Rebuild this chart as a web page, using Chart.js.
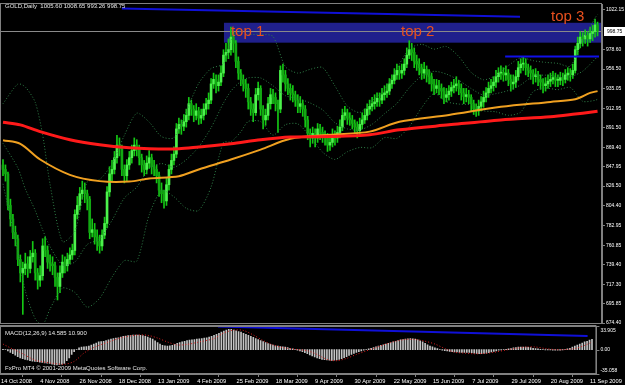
<!DOCTYPE html>
<html>
<head>
<meta charset="utf-8">
<script src="https://cdn.jsdelivr.net/npm/chart.js@4.4.0/dist/chart.umd.min.js"></script>
<style>
html, body { margin: 0; padding: 0; background: #000; }
#wrap { position: relative; width: 625px; height: 385px; background: #000; overflow: hidden; }
#price { position: absolute; left: 0; top: 0; }
#macd { position: absolute; left: 0; top: 325px; }
</style>
</head>
<body>
<div id="wrap">
  <canvas id="price" width="625" height="330" style="width:625px;height:330px"></canvas>
  <canvas id="macd" width="625" height="60" style="width:625px;height:60px"></canvas>
</div>
<script>
// GOLD daily, 14 Oct 2008 .. 11 Sep 2009 (bar index 0..240)
const dateLabels = ['14 Oct 2008', '4 Nov 2008', '26 Nov 2008', '18 Dec 2008', '13 Jan 2009', '4 Feb 2009',
    '25 Feb 2009', '18 Mar 2009', '9 Apr 2009', '30 Apr 2009', '22 May 2009', '15 Jun 2009', '7 Jul 2009',
    '29 Jul 2009', '20 Aug 2009', '11 Sep 2009']
const dateBars = [0, 16, 32, 48, 64, 80, 96, 112, 128, 144, 160, 176, 192, 208, 224, 240]

const firstOpen = 850
const closes = [
    845, 840, 805, 790, 775, 768, 745, 730, 735, 740,
    735, 748, 752, 730, 722, 727, 760, 755, 742, 740,
    738, 725, 715, 730, 742, 738, 745, 750, 755, 795,
    805, 818, 822, 818, 812, 775, 778, 770, 765, 760,
    772, 785, 820, 840, 845, 858, 872, 868, 845, 838,
    850, 858, 866, 872, 868, 858, 850, 845, 852, 858,
    848, 845, 838, 822, 818, 810, 828, 845, 855, 862,
    890, 895, 893, 898, 905, 918, 912, 905, 910, 902,
    905, 912, 918, 922, 940, 945, 938, 942, 952, 972,
    975, 978, 992, 985, 965, 952, 945, 940, 935, 920,
    912, 908, 928, 935, 912, 900, 905, 918, 928, 925,
    918, 912, 955, 950, 940, 935, 930, 928, 922, 915,
    918, 912, 900, 885, 880, 885, 880, 890, 886, 882,
    880, 872, 875, 882, 880, 886, 892, 905, 908, 902,
    900, 896, 892, 888, 895, 900, 905, 912, 915, 918,
    920, 924, 922, 928, 930, 932, 940, 944, 950, 955,
    952, 955, 962, 972, 978, 975, 965, 962, 958, 952,
    956, 950, 948, 940, 935, 938, 935, 932, 925, 928,
    932, 936, 938, 940, 935, 930, 926, 928, 925, 918,
    912, 910, 915, 920, 925, 930, 935, 938, 942, 948,
    952, 953, 950, 952, 945, 940, 942, 948, 958, 962,
    963, 958, 955, 952, 948, 950, 945, 942, 938, 940,
    943, 945, 947, 944, 944, 947, 945, 950, 952, 950,
    955, 978, 985, 992, 990, 994, 990, 996, 998, 1005.6, 998.75
]
const highs = [
    856, 850, 842, 812, 795, 782, 772, 750, 742, 752,
    748, 755, 765, 756, 735, 738, 768, 770, 760, 750,
    748, 742, 730, 738, 750, 748, 752, 758, 762, 800,
    815, 825, 832, 830, 822, 815, 790, 785, 778, 772,
    778, 792, 826, 848, 855, 865, 883, 880, 872, 850,
    856, 865, 872, 880, 878, 872, 862, 855, 860, 866,
    862, 855, 850, 842, 830, 822, 835, 850, 862, 870,
    896, 902, 900, 906, 912, 925, 922, 916, 918, 914,
    912, 918, 924, 930, 946, 952, 950, 950, 960, 978,
    985, 990, 1003, 998, 988, 970, 956, 950, 945, 940,
    925, 918, 935, 942, 938, 916, 912, 925, 935, 934,
    930, 922, 960, 962, 955, 946, 940, 938, 932, 928,
    926, 922, 916, 904, 890, 892, 890, 896, 895, 892,
    888, 885, 882, 890, 888, 893, 900, 912, 915, 912,
    908, 905, 900, 898, 902, 908, 912, 918, 922, 925,
    928, 930, 930, 935, 938, 940, 946, 950, 957, 962,
    960, 962, 968, 980, 988, 985, 980, 972, 968, 962,
    964, 960, 956, 952, 945, 945, 944, 940, 936, 935,
    938, 942, 945, 948, 944, 940, 935, 935, 933, 928,
    922, 918, 922, 926, 932, 936, 942, 945, 948, 955,
    958, 960, 958, 960, 956, 950, 950, 955, 965, 968,
    970, 968, 962, 960, 956, 957, 954, 950, 946, 947,
    950, 952, 954, 952, 950, 953, 952, 956, 958, 957,
    962, 982, 992, 998, 997, 1000, 998, 1003, 1005, 1012, 1008.65
]
const lows = [
    838, 832, 800, 782, 768, 760, 738, 720, 684, 728,
    725, 730, 742, 722, 712, 715, 722, 748, 735, 732,
    728, 715, 700, 708, 725, 730, 732, 740, 745, 750,
    790, 800, 812, 808, 800, 768, 770, 762, 755, 752,
    755, 768, 780, 815, 832, 840, 852, 860, 838, 830,
    832, 845, 852, 860, 860, 850, 842, 838, 840, 846,
    840, 838, 830, 815, 808, 802, 805, 822, 840, 850,
    858, 885, 884, 888, 892, 900, 905, 898, 900, 895,
    896, 900, 906, 912, 918, 935, 930, 932, 938, 948,
    965, 968, 972, 975, 958, 945, 938, 932, 925, 912,
    905, 898, 905, 922, 905, 890, 894, 900, 912, 918,
    910, 886, 908, 942, 932, 928, 922, 920, 915, 908,
    908, 904, 892, 878, 870, 874, 870, 875, 878, 875,
    872, 865, 866, 870, 872, 875, 880, 888, 900, 895,
    894, 890, 885, 880, 884, 890, 896, 900, 906, 910,
    912, 915, 915, 918, 922, 925, 928, 935, 940, 945,
    945, 946, 950, 958, 968, 966, 958, 955, 950, 945,
    946, 942, 940, 932, 928, 930, 928, 924, 918, 920,
    922, 926, 930, 932, 928, 922, 918, 920, 918, 910,
    906, 904, 905, 910, 914, 920, 925, 930, 932, 936,
    942, 945, 943, 944, 938, 932, 934, 936, 944, 952,
    955, 950, 948, 945, 940, 942, 938, 934, 930, 932,
    935, 937, 940, 937, 937, 939, 938, 941, 944, 943,
    946, 952, 972, 980, 982, 985, 982, 986, 988, 992, 993.26
]

// moving averages read at a few bars (red = slow, orange = fast)
const maBars = [0, 7, 15, 27, 39, 51, 59, 71, 79, 92, 104, 116, 132, 148, 160, 180, 201, 221, 231, 237, 240]
const maRed = [897.5, 894.5, 887, 878, 872.5, 869, 868, 868, 870, 873.5, 878, 881, 881.5, 883.5, 889, 894.5, 900, 903.5, 906.5, 908.5, 909.5]
const maOrange = [877.5, 873.5, 856, 839, 832, 831.5, 835, 837.5, 845, 856, 867, 879, 883.5, 887, 898, 905.5, 914.5, 920, 923, 930, 932]

// Bollinger bands (dotted), estimated at a few bars
const bbBars = [0, 6, 9, 13, 16, 19, 24, 29, 34, 39, 44, 49, 54, 59, 64, 69, 74, 79, 84, 89,
    92, 96, 99, 104, 109, 114, 119, 124, 129, 134, 139, 144, 149, 154, 159, 164, 169, 174, 179, 184,
    189, 194, 199, 204, 209, 214, 219, 224, 229, 234, 239, 240]
const bbMid = [874, 846.7, 823.4, 799.4, 777.9, 759.2, 739, 742.2, 761.6, 767.8, 788.4, 813.3, 825.3, 846, 851.5, 847.4, 855.8, 870, 891.3, 918.7,
    932, 942.8, 946.7, 946.6, 937.9, 926.9, 923.8, 918.8, 911.2, 896.9, 890, 888.8, 895.2, 906.9, 918.3, 935.7, 948.8, 954, 950.9, 944,
    934.8, 927.4, 929.2, 932.7, 938.9, 948.6, 949.7, 948.2, 947.9, 954.1, 967.5, 970.3]
const bbUp = [918, 939.9, 936.6, 919.6, 883.5, 828.4, 764.8, 776, 831, 833.8, 851.4, 882.9, 907.5, 897.6, 881.5, 880.2, 909.8, 940.6, 957.1, 962.3,
    988.5, 998.7, 995.1, 995, 992.7, 959.1, 952, 956.2, 958.2, 937.7, 915.4, 908.2, 921.2, 933.5, 957.1, 978.9, 984, 978.6, 981.5, 970.4,
    952.7, 944.6, 949.4, 960.3, 969.1, 965.8, 963.9, 962.8, 959.8, 987.5, 1013.3, 1017]
const bbLow = [829, 753.5, 710.2, 679.2, 672.3, 690, 713.2, 708.4, 692, 701.8, 725.4, 743.7, 743.1, 794.4, 821.5, 814.6, 801.8, 799.4, 825.5, 875.1,
    875.6, 886.8, 898.3, 898.2, 883.1, 894.7, 895.6, 881.4, 864.2, 856.1, 864.6, 869.4, 869.2, 880.3, 879.5, 892.5, 913.6, 929.4, 920.3, 917.6,
    916.8, 910.2, 909, 905.1, 908.7, 931.4, 935.4, 933.6, 936, 920.7, 921.7, 923]

// MACD(12,26,9)
const macdMain = [
    0.5, 0, -2, -4, -6, -8, -10, -12, -13, -14,
    -15, -16, -16.5, -17, -17.5, -18, -18.5, -19, -19.5, -20,
    -21, -22, -22, -21.5, -21, -20, -16, -12, -7, -3,
    0, 2.5, 3.5, 4, 4.5, 5, 6.5, 8, 9.5, 11,
    11.5, 12, 13, 14, 15, 16, 16.5, 17, 18, 19,
    19.5, 20, 20.5, 21, 21, 21, 20.5, 20, 19, 18,
    16.5, 15, 12.5, 10, 8, 6, 5.5, 5, 5.5, 6,
    7.5, 9, 10, 11, 12, 13, 13.5, 14, 14.5, 15,
    15.5, 16, 16.5, 17, 18, 19, 20.5, 22, 23.5, 25,
    26.5, 28, 29, 29, 28, 27, 26, 25, 23.5, 22,
    20.5, 19, 17.5, 16, 14.5, 13, 11.5, 10, 8.5, 7.5,
    6.5, 5.5, 5, 4.5, 4, 3.5, 3, 2, 1, 0,
    -1, -2, -3, -4.5, -6, -7.5, -9, -10.5, -12, -13,
    -14, -14.5, -15, -15.3, -15.5, -15.3, -15, -14, -13, -11.5,
    -10, -8.5, -7, -5.5, -4, -3, -2, -1, 0, 1,
    2, 3, 4, 5, 6, 7, 8, 9, 10, 11,
    12, 13, 14, 14.5, 15, 15.5, 16, 15.5, 15, 14,
    12.5, 11, 9, 7, 5, 4, 2.5, 1.5, 0, -1,
    -1.5, -2, -2.5, -3, -3.5, -3.5, -4, -4, -4, -4,
    -4, -4.5, -5, -5.5, -6, -6, -5.5, -5, -4.5, -3.5,
    -2.5, -2, -1, -0.5, 0, 0.5, 1, 1.5, 2.5, 3,
    3.5, 3.7, 3.6, 3.5, 3.2, 3, 2, 1.5, 1, 0.5,
    0, -0.5, -0.5, -0.5, -1, -1, -1, -1, -0.5, 0,
    1, 2, 3.5, 5, 6.5, 8, 9.5, 11, 12, 13.5, 14.585
]
const sigBars = [0, 3, 7, 13, 19, 25, 29, 33, 37, 43, 49, 55, 59, 63, 67, 71, 75, 80, 86, 90,
    94, 98, 102, 106, 110, 114, 120, 124, 128, 132, 136, 140, 144, 148, 152, 156, 160, 164, 168, 172,
    176, 180, 184, 188, 192, 196, 200, 205, 209, 213, 217, 221, 225, 229, 233, 237, 240]
const sigVals = [8, 2.5, -4, -15, -19, -21, -17, -5, 3, 11, 17.7, 21, 20.5, 16.6, 11, 6.7, 7.5, 11, 16, 24,
    28, 27.5, 21, 13, 6.7, 3, 0, -1.6, -7, -14, -16, -12.6, -7, -2, 3, 8, 12, 14.5, 14.5, 12,
    8, 1.6, -3.8, -5, -6, -5.5, -4, -0.6, 1.8, 3.7, 3.7, 1.5, 0, 0, 1.5, 6, 10.9]

// axis ticks
const priceTicks = [1022.15, 978.60, 956.50, 935.05, 912.95, 891.50, 869.40, 847.95, 826.50, 804.40,
    782.95, 760.85, 739.40, 717.30, 695.85, 674.40]
const macdTicks = [33.905, 0, -35.058]
const lastClose = 998.75

// drawn objects
const zonePrices = [985.8, 1007.9]
const zoneFromBar = 89.2
const topTrendBars = [48, 208.7]
const topTrendVals = [1023.8, 1014.5]
const resistBars = [202.7, 240.6]
const resistVals = [970.4, 970.4]
const macdTrendBars = [87.6, 238.2]
const macdTrendVals = [33.2, 19.5]
const topTexts = ['top 1', 'top 2', 'top 3']
const topBars = [92, 160.7, 221.2]
const topPrices = [993.5, 993.5, 1009.5]

const opens = closes.map((c, i) => i === 0 ? firstOpen : closes[i - 1])
const pts = (xs, ys) => xs.map((v, i) => ({ x: v, y: ys[i] }))

const FONT = '"Liberation Sans", Arial, sans-serif'
const GRAY = '#808080'
const BB_COLOR = '#2f8048'
const X_MIN = -1.21, X_MAX = 241.8

const mainDecor = {
    id: 'mainDecor',
    beforeDatasetsDraw(chart) {
        const { ctx, chartArea: a, scales: { x, y } } = chart
        ctx.save()
        const zx = x.getPixelForValue(zoneFromBar)
        const zy0 = y.getPixelForValue(zonePrices[1])
        const zy1 = y.getPixelForValue(zonePrices[0])
        ctx.fillStyle = '#20208c'
        ctx.fillRect(zx, zy0, a.right - zx, zy1 - zy0)
        const yc = Math.round(y.getPixelForValue(lastClose)) + 0.5
        ctx.strokeStyle = '#8a8a8a'
        ctx.lineWidth = 1
        ctx.beginPath(); ctx.moveTo(a.left, yc); ctx.lineTo(a.right, yc); ctx.stroke()
        ctx.restore()
    },
    afterDraw(chart) {
        const { ctx, chartArea: a, scales: { x, y } } = chart
        ctx.save()
        ctx.strokeStyle = GRAY
        ctx.lineWidth = 1
        ctx.strokeRect(a.left + 0.5, a.top - 0.5, a.right - a.left - 1, a.bottom - a.top + 1)
        ctx.fillStyle = '#e6e6e6'
        ctx.font = '6px ' + FONT
        ctx.textBaseline = 'middle'
        ctx.fillText('GOLD,Daily  1005.60 1008.65 993.26 998.75', 5, 6)
        ctx.fillStyle = '#e8501e'
        ctx.font = '15px ' + FONT
        ctx.textBaseline = 'alphabetic'
        topTexts.forEach((t, i) => ctx.fillText(t, x.getPixelForValue(topBars[i]), y.getPixelForValue(topPrices[i])))
        const yc = y.getPixelForValue(lastClose)
        ctx.fillStyle = '#ffffff'
        ctx.fillRect(a.right + 2, Math.round(yc) - 4, 23, 9)
        ctx.fillStyle = '#000000'
        ctx.font = '5px ' + FONT
        ctx.textBaseline = 'middle'
        ctx.fillText(lastClose.toFixed(2), a.right + 5, yc + 0.5)
        ctx.restore()
    }
}

const macdDecor = {
    id: 'macdDecor',
    afterDraw(chart) {
        const { ctx, chartArea: a, scales: { y } } = chart
        ctx.save()
        ctx.fillStyle = GRAY
        ctx.fillRect(0, 0, a.right, 1)
        ctx.strokeStyle = GRAY
        ctx.lineWidth = 1
        ctx.strokeRect(a.left + 0.5, a.top + 0.5, a.right - a.left - 1, a.bottom - a.top - 1)
        ctx.fillStyle = '#e6e6e6'
        ctx.font = '6px ' + FONT
        ctx.textBaseline = 'middle'
        ctx.fillText('MACD(12,26,9) 14.585 10.900', 5, 8)
        ctx.fillText('FxPro MT4 \u00a9 2001-2009 MetaQuotes Software Corp.', 5, 43)
        ctx.font = '5px ' + FONT
        macdTicks.forEach((v, i) => {
            const py = y.getPixelForValue(v)
            ctx.textBaseline = i === 0 ? 'top' : (i === macdTicks.length - 1 ? 'bottom' : 'middle')
            ctx.fillStyle = '#ffffff'
            ctx.fillText(i === 1 ? v.toFixed(2) : String(v), a.right + 4, i === 0 ? py + 2 : (i === 2 ? py - 1 : py))
            ctx.fillStyle = GRAY
            ctx.fillRect(a.right, Math.round(py), 3, 1)
        })
        ctx.restore()
    }
}

const bbLine = (vals) => ({
    type: 'line', data: pts(bbBars, vals), borderColor: BB_COLOR, borderWidth: 1,
    borderDash: [1, 2], pointRadius: 0, tension: 0.25
})

const mainCfg = {
    type: 'bar',
    data: {
        datasets: [
            { type: 'line', data: pts(maBars, maRed), borderColor: '#ff1a1a', borderWidth: 3, pointRadius: 0, tension: 0.3 },
            { type: 'line', data: pts(maBars, maOrange), borderColor: '#f0a020', borderWidth: 2, pointRadius: 0, tension: 0.3 },
            { type: 'line', data: pts(topTrendBars, topTrendVals), borderColor: '#1010d8', borderWidth: 2, pointRadius: 0 },
            { type: 'line', data: pts(resistBars, resistVals), borderColor: '#1010e8', borderWidth: 2, pointRadius: 0 },
            bbLine(bbUp),
            bbLine(bbMid),
            bbLine(bbLow),
            {
                data: closes.map((c, i) => ({ x: i, y: [opens[i], c] })),
                backgroundColor: (ctx) => closes[ctx.dataIndex] >= opens[ctx.dataIndex] ? '#4cf24c' : '#12a812',
                barThickness: 2, minBarLength: 1, grouped: false
            },
            {
                data: closes.map((c, i) => ({ x: i, y: [lows[i], highs[i]] })),
                backgroundColor: '#14c814', barThickness: 1, grouped: false
            }
        ]
    },
    options: {
        responsive: false,
        animation: false,
        devicePixelRatio: 1,
        layout: { padding: { top: 1, bottom: 7, left: 0, right: 0 } },
        plugins: { legend: { display: false }, tooltip: { enabled: false } },
        scales: {
            x: { type: 'linear', min: X_MIN, max: X_MAX, offset: false, display: false },
            y: {
                type: 'linear', position: 'right', min: 674.4, max: 1028.76, beginAtZero: false,
                afterBuildTicks: (s) => { s.ticks = priceTicks.map(v => ({ value: v })) },
                afterFit: (s) => { s.width = 23 },
                grid: { drawOnChartArea: false, tickLength: 3, color: GRAY },
                border: { display: true, color: GRAY },
                ticks: { color: '#ffffff', padding: 1, font: { size: 5, family: FONT }, callback: (v) => Number(v).toFixed(2) }
            }
        }
    },
    plugins: [mainDecor]
}

const macdCfg = {
    type: 'bar',
    data: {
        datasets: [
            { type: 'line', data: pts(macdTrendBars, macdTrendVals), borderColor: '#1010d8', borderWidth: 2, pointRadius: 0 },
            { type: 'line', data: pts(sigBars, sigVals), borderColor: '#e02020', borderWidth: 1, borderDash: [1, 2], pointRadius: 0, tension: 0.3 },
            {
                data: macdMain.map((v, i) => ({ x: i, y: v })),
                backgroundColor: '#c4c4c4', barThickness: 1, grouped: false
            }
        ]
    },
    options: {
        responsive: false,
        animation: false,
        devicePixelRatio: 1,
        layout: { padding: { top: 1, bottom: 0, left: 0, right: 0 } },
        plugins: { legend: { display: false }, tooltip: { enabled: false } },
        scales: {
            x: {
                type: 'linear', min: X_MIN, max: X_MAX, offset: false,
                afterBuildTicks: (s) => { s.ticks = dateBars.map(v => ({ value: v })) },
                afterFit: (s) => { s.height = 11 },
                grid: { drawOnChartArea: false, tickLength: 3, color: GRAY },
                border: { display: true, color: GRAY },
                ticks: {
                    color: '#ffffff', align: 'start', labelOffset: -2, padding: 1, maxRotation: 0, autoSkip: false,
                    font: { size: 5.7, family: FONT },
                    callback: (v) => dateLabels[dateBars.indexOf(v)]
                }
            },
            y: {
                type: 'linear', position: 'right', min: -35.058, max: 33.905, beginAtZero: false,
                afterFit: (s) => { s.width = 23 },
                grid: { display: false },
                border: { display: true, color: GRAY },
                ticks: { display: false }
            }
        }
    },
    plugins: [macdDecor]
}

new Chart(document.getElementById('price').getContext('2d'), mainCfg)
new Chart(document.getElementById('macd').getContext('2d'), macdCfg)
</script>
</body>
</html>
